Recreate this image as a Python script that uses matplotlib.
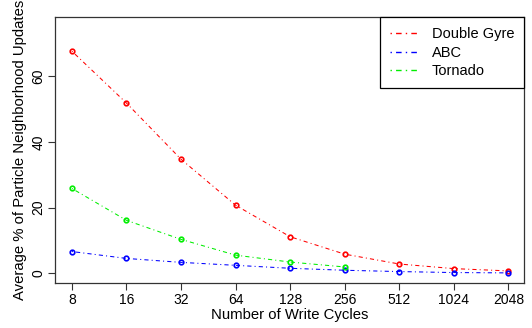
import numpy as np
import matplotlib.pyplot as plt

plt.rcParams['font.family'] = ['Liberation Sans', 'DejaVu Sans']

# write cycles (powers of two)
cycles = [8, 16, 32, 64, 128, 256, 512, 1024, 2048]
tick_labels = ['8', '16', '32', '64', '128', '256', '512', '1024', '2048']

double_gyre = [67.6, 51.8, 34.7, 20.7, 11.1, 5.8, 2.8, 1.4, 0.7]
abc = [6.6, 4.5, 3.3, 2.4, 1.5, 0.9, 0.5, 0.2, 0.1]
tornado_cycles = [8, 16, 32, 64, 128, 256]
tornado = [25.8, 16.1, 10.3, 5.5, 3.4, 1.9]

fig = plt.figure(figsize=(5.32, 3.28), dpi=100)
ax = fig.add_axes([0.1034, 0.137, 0.882, 0.811])

# R style "dotdash"
dotdash = (1, 3, 4, 3)
style = dict(linewidth=0.75, dashes=dotdash, marker='o', markersize=3.3,
             markerfacecolor='none', markeredgewidth=1.2)

x_pos = np.log2(cycles)
ax.plot(x_pos, double_gyre, color='red', label='Double Gyre', **style)
ax.plot(x_pos, abc, color='blue', label='ABC', **style)
ax.plot(np.log2(tornado_cycles), tornado, color='#00ee00', label='Tornado', **style)

ax.set_xlim(2.69, 11.29)
ax.set_ylim(-3, 78)
ax.set_xticks(x_pos)
ax.set_xticklabels(tick_labels)
ax.set_yticks([0, 20, 40, 60])
ax.set_yticklabels(['0', '20', '40', '60'], rotation=90, va='center')

ax.tick_params(direction='out', length=5, width=0.8, labelsize=10, pad=2,
               color='#333333')
for s in ax.spines.values():
    s.set_color('#333333')
    s.set_linewidth(0.9)

ax.set_xlabel('Number of Write Cycles', fontsize=10.7, labelpad=1)
ax.set_ylabel('Average % of Particle Neighborhood Updates', fontsize=10.7, labelpad=3)

leg = ax.legend(loc='upper right', bbox_to_anchor=(1.0, 1.0), borderaxespad=0,
                prop={'size': 10.5}, fancybox=False, framealpha=1, edgecolor='black',
                handlelength=1.85, handletextpad=1.0, labelspacing=0.3,
                borderpad=0.7, markerscale=0)
leg.get_frame().set_linewidth(0.9)
for h in leg.legend_handles:
    h.set_marker('')
    h.set_linewidth(1.0)

fig.savefig('out.png', dpi=100)
